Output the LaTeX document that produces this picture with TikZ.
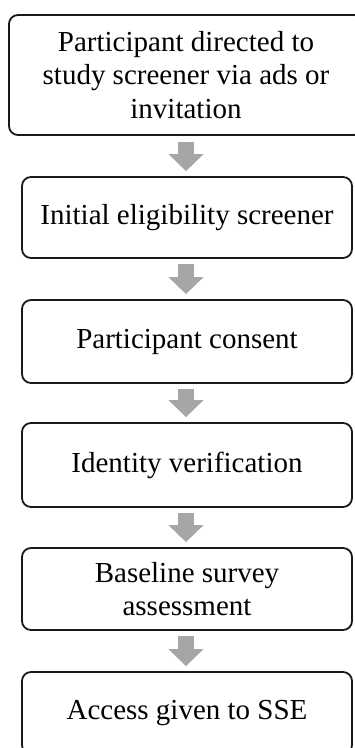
\documentclass[tikz,border=0pt]{standalone}
\usepackage{fontspec}
\setmainfont{Liberation Serif}
\usepackage{tikz}
\usetikzlibrary{arrows}
\usetikzlibrary{arrows.meta}
\usetikzlibrary{calc}
\definecolor{arrowgray}{RGB}{166,166,166}
\tikzstyle{stepbox} = [draw=black!90,line width=1.8pt,rounded corners=9pt,inner sep=0pt,align=center,font=\fontsize{29}{33.5}\selectfont]
\tikzstyle{flowarrow} = [draw=arrowgray,line width=16pt,-{Triangle[width=35pt,length=17pt,line width=0pt,fill=arrowgray]}]

\begin{document}
\begin{tikzpicture}[x=1pt,y=-1pt]
\useasboundingbox (0,0) rectangle (354,748);
\draw(186,75) node[stepbox,minimum width=354pt,minimum height=120pt] (directed) {Participant directed to\\study screener via ads or\\invitation};
\draw(187,217.5) node[stepbox,minimum width=330pt,minimum height=81pt] (screener) {Initial eligibility screener};
\draw(187,341.5) node[stepbox,minimum width=330pt,minimum height=83pt] (consent) {Participant consent};
\draw(187,465) node[stepbox,minimum width=330pt,minimum height=84pt] (identity) {Identity verification};
\draw(187,589) node[stepbox,minimum width=330pt,minimum height=82pt] (baseline) {Baseline survey\\assessment};
\draw(187,713) node[stepbox,minimum width=330pt,minimum height=82pt] (access) {Access given to SSE};

%\draw[->] (directed) -- (screener);
\draw[flowarrow] ($(directed.south -| screener.north)+(-1,6)$) -- ($(screener.north)+(-1,-5)$);
\draw[flowarrow] ($(screener.south)+(-1,5)$) -- ($(consent.north)+(-1,-5)$);
\draw[flowarrow] ($(consent.south)+(-1,5)$) -- ($(identity.north)+(-1,-5)$);
\draw[flowarrow] ($(identity.south)+(-1,5)$) -- ($(baseline.north)+(-1,-5)$);
\draw[flowarrow] ($(baseline.south)+(-1,5)$) -- ($(access.north)+(-1,-5)$);

\end{tikzpicture}
\end{document}
